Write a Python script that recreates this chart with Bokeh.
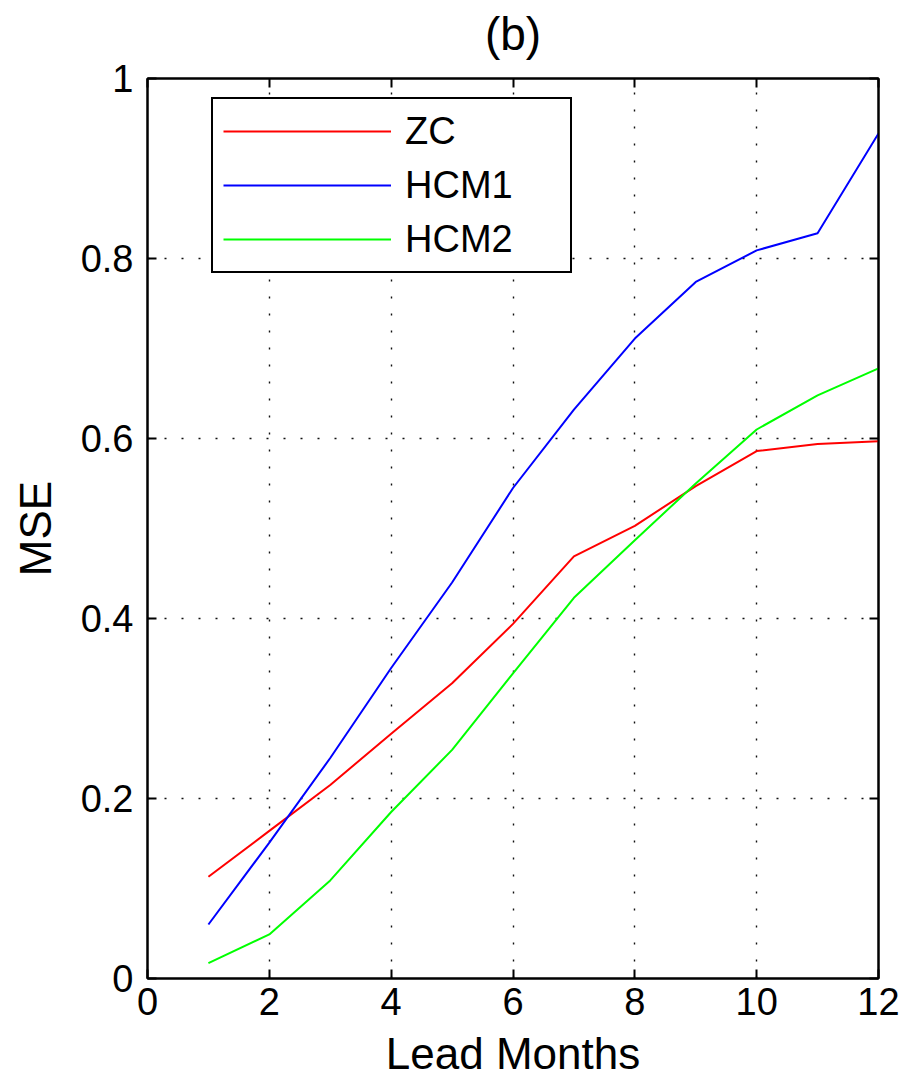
from bokeh.plotting import figure
from bokeh.models import (LinearAxis, FixedTicker, Legend, LegendItem,
                          CustomJSTickFormatter, Range1d)
from bokeh.embed import file_html
from bokeh.resources import INLINE

# ---------------- data ----------------
lead_months = [1, 2, 3, 4, 5, 6, 7, 8, 9, 10, 11, 12]
zc   = [0.113, 0.164, 0.215, 0.272, 0.328, 0.394, 0.469, 0.503, 0.547, 0.586, 0.594, 0.597]
hcm1 = [0.060, 0.151, 0.245, 0.345, 0.440, 0.545, 0.632, 0.711, 0.774, 0.809, 0.828, 0.939]
hcm2 = [0.017, 0.049, 0.109, 0.185, 0.254, 0.339, 0.423, 0.487, 0.550, 0.610, 0.648, 0.678]
series_names = ["ZC", "HCM1", "HCM2"]
series_colors = ["#ff0000", "#0000ff", "#00ff00"]

xticks = [0, 2, 4, 6, 8, 10, 12]
yticks = [0, 0.2, 0.4, 0.6, 0.8, 1.0]
ytick_labels = ["0", "0.2", "0.4", "0.6", "0.8", "1"]
title_text = "(b)"
xlabel = "Lead Months"
ylabel = "MSE"

FONT = "Liberation Sans"

p = figure(width=915, height=1080, output_backend="svg", toolbar_location=None,
           x_range=Range1d(0, 12), y_range=Range1d(0, 1),
           min_border_left=147, min_border_right=37,
           min_border_top=78, min_border_bottom=102)
p.background_fill_color = "white"
p.border_fill_color = "white"
p.outline_line_color = "black"
p.outline_line_width = 2

def style_axis(ax):
    ax.axis_line_color = "black"
    ax.axis_line_width = 2
    ax.major_tick_line_color = "black"
    ax.major_tick_line_width = 2
    ax.major_tick_in = 9
    ax.major_tick_out = 0
    ax.minor_tick_line_color = None
    ax.major_label_text_font = FONT
    ax.major_label_text_font_size = "38px"
    ax.major_label_text_color = "black"
    ax.axis_label_text_font = FONT
    ax.axis_label_text_font_size = "44px"
    ax.axis_label_text_font_style = "normal"
    ax.axis_label_text_color = "black"

xa = p.xaxis[0]
ya = p.yaxis[0]
xa.ticker = FixedTicker(ticks=xticks)
ya.ticker = FixedTicker(ticks=yticks)
ya.major_label_overrides = {t: l for t, l in zip(yticks, ytick_labels)}
xa.axis_label = xlabel
ya.axis_label = ylabel
style_axis(xa)
style_axis(ya)
xa.major_label_standoff = 9
ya.major_label_standoff = 14
xa.axis_label_standoff = 11
ya.axis_label_standoff = 18

blank = CustomJSTickFormatter(code="return ''")
top = LinearAxis(ticker=FixedTicker(ticks=xticks), formatter=blank)
right = LinearAxis(ticker=FixedTicker(ticks=yticks), formatter=blank)
for ax in (top, right):
    style_axis(ax)
    ax.major_label_text_font_size = "1px"
    ax.major_label_standoff = 0
# the panel title "(b)" sits above the frame as the top axis's label
top.axis_label = title_text
top.axis_label_text_font_size = "46px"
top.axis_label_standoff = 19
p.add_layout(top, "above")
p.add_layout(right, "right")

for g in (p.xgrid[0], p.ygrid[0]):
    g.grid_line_color = "#111111"
    g.grid_line_alpha = 1.0
    g.grid_line_width = 1.4
    g.grid_line_dash = "2 15"
p.xgrid[0].ticker = FixedTicker(ticks=xticks[1:-1])
p.ygrid[0].ticker = FixedTicker(ticks=yticks[1:-1])

renderers = []
for ys, c in zip([zc, hcm1, hcm2], series_colors):
    r = p.line(lead_months, ys, line_color=c, line_width=2)
    renderers.append(r)

legend = Legend(items=[LegendItem(label=n, renderers=[r])
                       for n, r in zip(series_names, renderers)],
                location=(64, 705))
legend.border_line_color = "black"
legend.border_line_alpha = 1.0
legend.border_line_width = 2
legend.background_fill_color = "white"
legend.background_fill_alpha = 1
legend.label_text_font = FONT
legend.label_text_font_size = "38px"
legend.label_text_color = "black"
legend.padding = 10
legend.margin = 0
legend.glyph_width = 168
legend.glyph_height = 44
legend.label_height = 44
legend.label_width = 155
legend.label_standoff = 14
legend.spacing = 10
p.add_layout(legend, "center")

open("out.html", "w").write(file_html(p, INLINE))
